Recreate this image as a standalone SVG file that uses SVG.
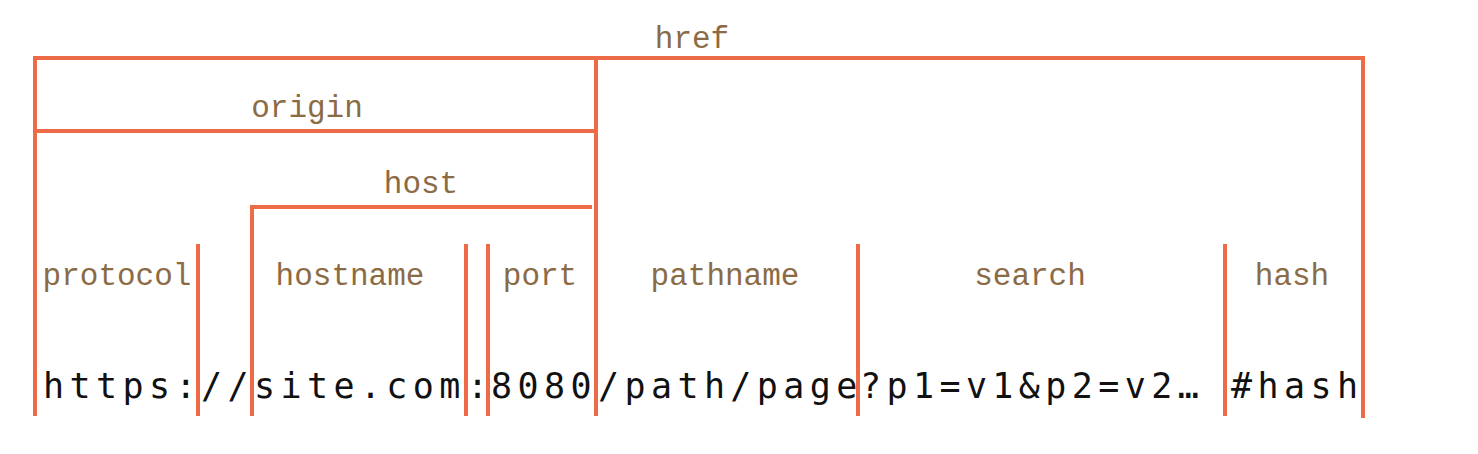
<svg xmlns="http://www.w3.org/2000/svg" width="1478" height="454" viewBox="0 0 1478 454">
<style>
.ln{stroke:#EE6B47;stroke-width:4;fill:none;stroke-linecap:butt}
.lbl{font-family:"Liberation Mono","DejaVu Sans Mono",monospace;font-size:31px;fill:#8B6B45;text-anchor:middle}
.url{font-family:"DejaVu Sans Mono","Liberation Mono",monospace;font-size:35px;fill:#111;letter-spacing:5.4px}
.one{letter-spacing:0}
</style>
<rect width="1478" height="454" fill="#fff"/>
<g id="connectors">
<path class="ln" d="M35 416 V58 H1363 V418"/>
<path class="ln" d="M35 131 H596"/>
<path class="ln" d="M596 58 V416"/>
<path class="ln" d="M252 416 V207 H592"/>
<path class="ln" d="M198 244 V416"/>
<path class="ln" d="M466 244 V416"/>
<path class="ln" d="M488 244 V416"/>
<path class="ln" d="M858 244 V416"/>
<path class="ln" d="M1225 244 V416"/>
</g>
<g id="href"><text class="lbl" x="692" y="48">href</text></g>
<g id="origin"><text class="lbl" x="307" y="117">origin</text></g>
<g id="host"><text class="lbl" x="421" y="193">host</text></g>
<g id="protocol"><text class="lbl" x="117" y="285">protocol</text><text class="url" x="43" y="398">https:</text></g>
<g id="slashes"><text class="url" x="201" y="398">//</text></g>
<g id="hostname"><text class="lbl" x="350" y="285">hostname</text><text class="url" x="254" y="398">site.com</text></g>
<g id="colon"><text class="url one" x="467" y="398">:</text></g>
<g id="port"><text class="lbl" x="540" y="285">port</text><text class="url" x="491" y="398">8080</text></g>
<g id="pathname"><text class="lbl" x="725" y="285">pathname</text><text class="url" x="598" y="398">/path/page</text></g>
<g id="search"><text class="lbl" x="1030" y="285">search</text><text class="url" x="860" y="398">?p1=v1&amp;p2=v2…</text></g>
<g id="hash"><text class="lbl" x="1292" y="285">hash</text><text class="url" x="1231" y="398">#hash</text></g>
</svg>
